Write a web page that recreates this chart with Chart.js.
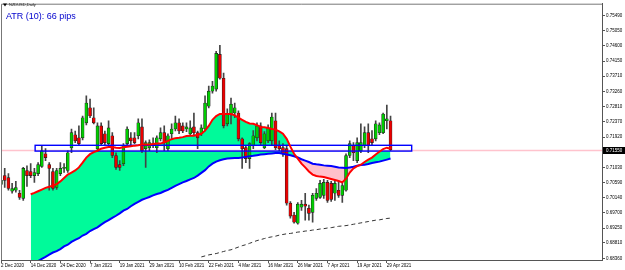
<!DOCTYPE html>
<html>
<head>
<meta charset="utf-8">
<script src="https://cdn.jsdelivr.net/npm/chart.js@4.4.1/dist/chart.umd.min.js"></script>
<style>
  html, body { margin: 0; padding: 0; background: #fff; }
  #wrap { position: relative; width: 625px; height: 270px; }
</style>
</head>
<body>
<div id="wrap"><canvas id="chart"></canvas></div>
<script>
// NZDUSD daily, 2 Dec 2020 .. 30 Apr 2021 (one entry per bar)
const symbolTitle = 'NZDUSD,Daily';
const atrText = 'ATR (10): 66 pips';
const slots = 163; // bar slots visible across the chart (empty space on the right)

const tickLabels = ['2 Dec 2020', '14 Dec 2020', '24 Dec 2020', '7 Jan 2021', '19 Jan 2021', '29 Jan 2021',
    '10 Feb 2021', '22 Feb 2021', '4 Mar 2021', '16 Mar 2021', '26 Mar 2021', '7 Apr 2021', '19 Apr 2021', '29 Apr 2021'];
const barsPerLabel = 8;

const yTicks = [0.75490, 0.75050, 0.74600, 0.74150, 0.73710, 0.73260, 0.72810, 0.72370, 0.71920,
    0.71480, 0.71030, 0.70590, 0.70140, 0.69700, 0.69250, 0.68810, 0.68360];

const opens = [
    0.7053, 0.7079, 0.7073, 0.7033, 0.7036, 0.7027, 0.7012, 0.7094, 0.7091, 0.7079,
    0.7085, 0.7106, 0.7143, 0.7111, 0.7091, 0.7044, 0.7085, 0.7100, 0.7094, 0.7161,
    0.7199, 0.7190, 0.7190, 0.7234, 0.7278, 0.7249, 0.7158, 0.7225, 0.7202, 0.7173,
    0.7196, 0.7138, 0.7111, 0.7114, 0.7173, 0.7190, 0.7190, 0.7196, 0.7222, 0.7158,
    0.7161, 0.7170, 0.7161, 0.7187, 0.7205, 0.7158, 0.7202, 0.7216, 0.7234, 0.7225,
    0.7216, 0.7202, 0.7222, 0.7205, 0.7202, 0.7216, 0.7283, 0.7327, 0.7333, 0.7435,
    0.7365, 0.7231, 0.7260, 0.7263, 0.7263, 0.7187, 0.7161, 0.7129, 0.7167, 0.7190,
    0.7225, 0.7161, 0.7181, 0.7181, 0.7240, 0.7167, 0.7161, 0.7158, 0.6998, 0.6963,
    0.6939, 0.6986, 0.6995, 0.6983, 0.6971, 0.7012, 0.7015, 0.7021, 0.7059, 0.7056,
    0.7027, 0.7036, 0.7021, 0.7036, 0.7138, 0.7167, 0.7123, 0.7152, 0.7167, 0.7205,
    0.7187, 0.7187, 0.7205, 0.7205, 0.7240, 0.7240
];
const highs = [
    0.7073, 0.7100, 0.7085, 0.7056, 0.7062, 0.7036, 0.7103, 0.7108, 0.7114, 0.7100,
    0.7117, 0.7167, 0.7158, 0.7117, 0.7100, 0.7100, 0.7117, 0.7114, 0.7152, 0.7216,
    0.7210, 0.7225, 0.7254, 0.7313, 0.7304, 0.7278, 0.7234, 0.7234, 0.7210, 0.7240,
    0.7205, 0.7146, 0.7123, 0.7173, 0.7222, 0.7205, 0.7205, 0.7246, 0.7246, 0.7181,
    0.7184, 0.7190, 0.7196, 0.7219, 0.7225, 0.7202, 0.7231, 0.7254, 0.7246, 0.7234,
    0.7234, 0.7240, 0.7263, 0.7210, 0.7228, 0.7313, 0.7342, 0.7356, 0.7444, 0.7462,
    0.7380, 0.7275, 0.7307, 0.7292, 0.7269, 0.7190, 0.7167, 0.7176, 0.7211, 0.7234,
    0.7234, 0.7208, 0.7228, 0.7263, 0.7263, 0.7181, 0.7173, 0.7167, 0.7003, 0.6971,
    0.7000, 0.7006, 0.7027, 0.6992, 0.7027, 0.7041, 0.7065, 0.7068, 0.7065, 0.7062,
    0.7065, 0.7062, 0.7056, 0.7143, 0.7181, 0.7176, 0.7190, 0.7231, 0.7222, 0.7231,
    0.7211, 0.7240, 0.7234, 0.7263, 0.7286, 0.7254
];
const lows = [
    0.7047, 0.7044, 0.7036, 0.7027, 0.7030, 0.7009, 0.7006, 0.7047, 0.7073, 0.7059,
    0.7079, 0.7103, 0.7123, 0.7036, 0.7036, 0.7038, 0.7079, 0.7088, 0.7088, 0.7146,
    0.7176, 0.7167, 0.7184, 0.7228, 0.7249, 0.7231, 0.7149, 0.7167, 0.7170, 0.7167,
    0.7132, 0.7097, 0.7094, 0.7108, 0.7167, 0.7167, 0.7173, 0.7187, 0.7146, 0.7103,
    0.7152, 0.7161, 0.7146, 0.7181, 0.7152, 0.7152, 0.7187, 0.7210, 0.7202, 0.7205,
    0.7208, 0.7196, 0.7199, 0.7158, 0.7196, 0.7210, 0.7278, 0.7321, 0.7327, 0.7362,
    0.7219, 0.7225, 0.7231, 0.7249, 0.7181, 0.7100, 0.7117, 0.7100, 0.7158, 0.7181,
    0.7167, 0.7158, 0.7176, 0.7167, 0.7155, 0.7152, 0.7135, 0.6992, 0.6954, 0.6939,
    0.6936, 0.6977, 0.6948, 0.6948, 0.6942, 0.7006, 0.7012, 0.7012, 0.7000, 0.7003,
    0.7006, 0.7015, 0.7000, 0.7033, 0.7132, 0.7123, 0.7117, 0.7146, 0.7161, 0.7146,
    0.7167, 0.7181, 0.7199, 0.7202, 0.7216, 0.7152
];
const closes = [
    0.7065, 0.7065, 0.7041, 0.7041, 0.7044, 0.7015, 0.7100, 0.7079, 0.7079, 0.7088,
    0.7111, 0.7152, 0.7132, 0.7100, 0.7041, 0.7094, 0.7100, 0.7103, 0.7146, 0.7205,
    0.7181, 0.7173, 0.7249, 0.7292, 0.7254, 0.7234, 0.7225, 0.7173, 0.7176, 0.7219,
    0.7138, 0.7103, 0.7103, 0.7167, 0.7216, 0.7181, 0.7176, 0.7234, 0.7152, 0.7176,
    0.7176, 0.7173, 0.7190, 0.7205, 0.7176, 0.7196, 0.7216, 0.7234, 0.7210, 0.7210,
    0.7222, 0.7219, 0.7205, 0.7190, 0.7219, 0.7292, 0.7327, 0.7342, 0.7438, 0.7365,
    0.7225, 0.7260, 0.7289, 0.7278, 0.7187, 0.7158, 0.7129, 0.7173, 0.7196, 0.7225,
    0.7176, 0.7202, 0.7219, 0.7251, 0.7161, 0.7158, 0.7143, 0.6998, 0.6960, 0.6942,
    0.6995, 0.6995, 0.6989, 0.6968, 0.7021, 0.7027, 0.7056, 0.7059, 0.7006, 0.7009,
    0.7056, 0.7021, 0.7050, 0.7138, 0.7173, 0.7146, 0.7176, 0.7176, 0.7205, 0.7167,
    0.7176, 0.7231, 0.7228, 0.7260, 0.7246, 0.7155
];

// moving averages, starting at bar maStart
const maStart = 8;
const fastMa = [
    0.7024, 0.7028, 0.7033, 0.7038, 0.7043, 0.7046, 0.7050, 0.7054, 0.7062, 0.7072,
    0.7082, 0.7088, 0.7094, 0.7103, 0.7117, 0.7132, 0.7142, 0.7148, 0.7152, 0.7158,
    0.7161, 0.7163, 0.7163, 0.7161, 0.7160, 0.7162, 0.7164, 0.7165, 0.7167, 0.7168,
    0.7170, 0.7170, 0.7170, 0.7172, 0.7173, 0.7173, 0.7177, 0.7181, 0.7186, 0.7189,
    0.7190, 0.7192, 0.7195, 0.7196, 0.7196, 0.7199, 0.7202, 0.7211, 0.7225, 0.7243,
    0.7254, 0.7260, 0.7260, 0.7260, 0.7260, 0.7256, 0.7249, 0.7243, 0.7237, 0.7232,
    0.7231, 0.7227, 0.7222, 0.7221, 0.7219, 0.7216, 0.7214, 0.7209, 0.7202, 0.7187,
    0.7164, 0.7143, 0.7129, 0.7114, 0.7103, 0.7091, 0.7082, 0.7078, 0.7076, 0.7075,
    0.7072, 0.7069, 0.7066, 0.7063, 0.7059, 0.7070, 0.7088, 0.7100, 0.7107, 0.7111,
    0.7119, 0.7126, 0.7132, 0.7141, 0.7149, 0.7157, 0.7161, 0.7158
];
const slowMa = [
    0.6814, 0.6821, 0.6828, 0.6834, 0.6840, 0.6847, 0.6853, 0.6857, 0.6863, 0.6871,
    0.6876, 0.6884, 0.6890, 0.6895, 0.6903, 0.6908, 0.6916, 0.6922, 0.6927, 0.6935,
    0.6942, 0.6948, 0.6955, 0.6961, 0.6968, 0.6976, 0.6981, 0.6989, 0.6996, 0.7002,
    0.7008, 0.7012, 0.7016, 0.7021, 0.7025, 0.7028, 0.7033, 0.7037, 0.7043, 0.7049,
    0.7054, 0.7059, 0.7063, 0.7068, 0.7072, 0.7079, 0.7087, 0.7095, 0.7106, 0.7114,
    0.7120, 0.7124, 0.7127, 0.7129, 0.7130, 0.7131, 0.7131, 0.7132, 0.7134, 0.7136,
    0.7137, 0.7139, 0.7141, 0.7142, 0.7143, 0.7144, 0.7145, 0.7145, 0.7143, 0.7141,
    0.7139, 0.7136, 0.7132, 0.7127, 0.7123, 0.7119, 0.7114, 0.7112, 0.7111, 0.7109,
    0.7108, 0.7107, 0.7105, 0.7103, 0.7102, 0.7101, 0.7103, 0.7105, 0.7108, 0.7110,
    0.7111, 0.7113, 0.7116, 0.7118, 0.7120, 0.7123, 0.7126, 0.7129
];
// long-term average (dashed), starting at bar longStart
const longStart = 54;
const longMa = [
    0.6840, 0.6843, 0.6846, 0.6848, 0.6850, 0.6853, 0.6856, 0.6859, 0.6861, 0.6865,
    0.6869, 0.6873, 0.6876, 0.6880, 0.6884, 0.6888, 0.6891, 0.6894, 0.6897, 0.6899,
    0.6901, 0.6904, 0.6906, 0.6908, 0.6909, 0.6911, 0.6913, 0.6914, 0.6916, 0.6917,
    0.6919, 0.6920, 0.6922, 0.6923, 0.6925, 0.6926, 0.6928, 0.6930, 0.6931, 0.6932,
    0.6934, 0.6936, 0.6938, 0.6940, 0.6942, 0.6944, 0.6946, 0.6948, 0.6949, 0.6951,
    0.6953, 0.6954
];

// support zone rectangle: [top, bottom] price, [from, to] bar
const zoneLevels = [0.7168, 0.7151];
const zoneBars = [9.2, 110.7];
const currentPrice = 0.71550;

const pad = (start, arr) => Array(start).fill(null).concat(arr);
const labels = Array.from({ length: slots }, (_, i) => i);
const upColor = 'rgb(0, 205, 0)';
const downColor = 'rgb(235, 0, 0)';
const tinyFont = { family: 'Liberation Sans', size: 4.5 };

const overlay = {
    id: 'mt4Overlay',
    afterDatasetDraw(chart, args) {
        const { ctx, chartArea: area } = chart;
        const x = chart.scales.x, y = chart.scales.y;
        const x0 = x.getPixelForValue(zoneBars[0]), x1 = x.getPixelForValue(zoneBars[1]);
        const y0 = y.getPixelForValue(zoneLevels[0]), y1 = y.getPixelForValue(zoneLevels[1]);
        ctx.save();
        ctx.beginPath();
        ctx.rect(area.left, area.top, area.right - area.left, area.bottom - area.top);
        ctx.clip();
        if (args.index === 0) {
            ctx.fillStyle = '#fff';
            ctx.fillRect(x0, y0, x1 - x0, y1 - y0);
            const yp = Math.round(y.getPixelForValue(currentPrice)) + 0.5;
            ctx.strokeStyle = 'rgb(255, 195, 205)';
            ctx.lineWidth = 1.3;
            ctx.beginPath();
            ctx.moveTo(area.left, yp);
            ctx.lineTo(area.right, yp);
            ctx.stroke();
        }
        if (args.index === 2) {
            ctx.strokeStyle = '#0000ff';
            ctx.lineWidth = 1.4;
            ctx.strokeRect(x0, y0, x1 - x0, y1 - y0);
        }
        ctx.restore();
    },
    afterDraw(chart) {
        const { ctx, chartArea: area } = chart;
        const y = chart.scales.y;
        ctx.save();
        // frame
        ctx.strokeStyle = '#777';
        ctx.lineWidth = 1;
        ctx.beginPath();
        ctx.moveTo(area.left + 0.5, area.bottom);
        ctx.lineTo(area.left + 0.5, area.top + 0.5);
        ctx.lineTo(area.right, area.top + 0.5);
        ctx.stroke();
        // symbol caption
        ctx.fillStyle = '#000';
        ctx.beginPath();
        ctx.moveTo(3, 3.5);
        ctx.lineTo(7, 3.5);
        ctx.lineTo(5, 6.5);
        ctx.closePath();
        ctx.fill();
        ctx.font = '4px "Liberation Sans"';
        ctx.textBaseline = 'middle';
        ctx.fillStyle = '#222';
        ctx.fillText(symbolTitle, 9, 5);
        ctx.font = '9px "Liberation Sans"';
        ctx.textBaseline = 'alphabetic';
        ctx.fillStyle = '#0000cd';
        ctx.fillText(atrText, 6, 18.5);
        // price tag on the axis
        const yp = Math.round(y.getPixelForValue(currentPrice)) + 0.5;
        ctx.fillStyle = '#000';
        ctx.fillRect(area.right + 1, yp - 3.5, 625 - area.right - 1, 7);
        ctx.fillStyle = '#fff';
        ctx.font = '4.5px "Liberation Sans"';
        ctx.textBaseline = 'middle';
        ctx.fillText(currentPrice.toFixed(5), area.right + 4, yp);
        ctx.restore();
    }
};

new Chart(document.getElementById('chart'), {
    type: 'bar',
    data: {
        labels: labels,
        datasets: [
            {
                type: 'line',
                label: 'fill',
                data: pad(maStart, fastMa),
                borderWidth: 0,
                borderColor: 'rgba(0,0,0,0)',
                pointRadius: 0,
                fill: { target: 4, above: 'rgb(0, 250, 154)', below: 'rgb(255, 192, 203)' },
                order: 10
            },
            {
                label: 'wicks',
                data: highs.map((h, i) => [lows[i], h]),
                backgroundColor: '#444',
                barThickness: 1,
                grouped: false,
                order: 8
            },
            {
                label: 'bodies',
                data: opens.map((o, i) => [o, closes[i]]),
                backgroundColor: opens.map((o, i) => closes[i] >= o ? upColor : downColor),
                borderColor: '#222',
                borderWidth: 0.6,
                borderSkipped: false,
                barThickness: 3,
                minBarLength: 1,
                grouped: false,
                order: 7
            },
            {
                type: 'line',
                label: 'long',
                data: pad(longStart, longMa),
                borderColor: '#333',
                borderWidth: 1,
                borderDash: [4, 3],
                pointRadius: 0,
                fill: false,
                order: 3
            },
            {
                type: 'line',
                label: 'slow',
                data: pad(maStart, slowMa),
                borderColor: '#0000ff',
                borderWidth: 2,
                pointRadius: 0,
                fill: false,
                order: 2
            },
            {
                type: 'line',
                label: 'fast',
                data: pad(maStart, fastMa),
                borderColor: '#ff0000',
                borderWidth: 2,
                pointRadius: 0,
                fill: false,
                order: 1
            }
        ]
    },
    options: {
        responsive: true,
        maintainAspectRatio: false,
        animation: false,
        events: [],
        layout: { padding: { left: 1, top: 1, right: 0, bottom: 0 } },
        plugins: {
            legend: { display: false },
            tooltip: { enabled: false }
        },
        scales: {
            x: {
                type: 'category',
                offset: false,
                grid: { drawOnChartArea: false, drawTicks: true, tickLength: 3, color: '#555', offset: false },
                border: { color: '#555' },
                afterBuildTicks: (scale) => {
                    scale.ticks = scale.ticks.filter(t => t.value % barsPerLabel === 0 && t.value / barsPerLabel < tickLabels.length);
                },
                afterFit: (scale) => { scale.height = 10; },
                ticks: {
                    autoSkip: false,
                    maxRotation: 0,
                    align: 'start',
                    padding: 0,
                    color: '#000',
                    font: tinyFont,
                    callback: (value) => tickLabels[value / barsPerLabel]
                }
            },
            y: {
                position: 'right',
                min: 0.6831,
                max: 0.7584,
                grid: { drawOnChartArea: false, drawTicks: true, tickLength: 3, color: '#555' },
                border: { color: '#555' },
                afterBuildTicks: (scale) => {
                    scale.ticks = yTicks.map(v => ({ value: v }));
                },
                afterFit: (scale) => { scale.width = 23; },
                ticks: {
                    padding: 1,
                    color: '#000',
                    font: tinyFont,
                    callback: (value) => value.toFixed(5)
                }
            }
        }
    },
    plugins: [overlay]
});
</script>
</body>
</html>
